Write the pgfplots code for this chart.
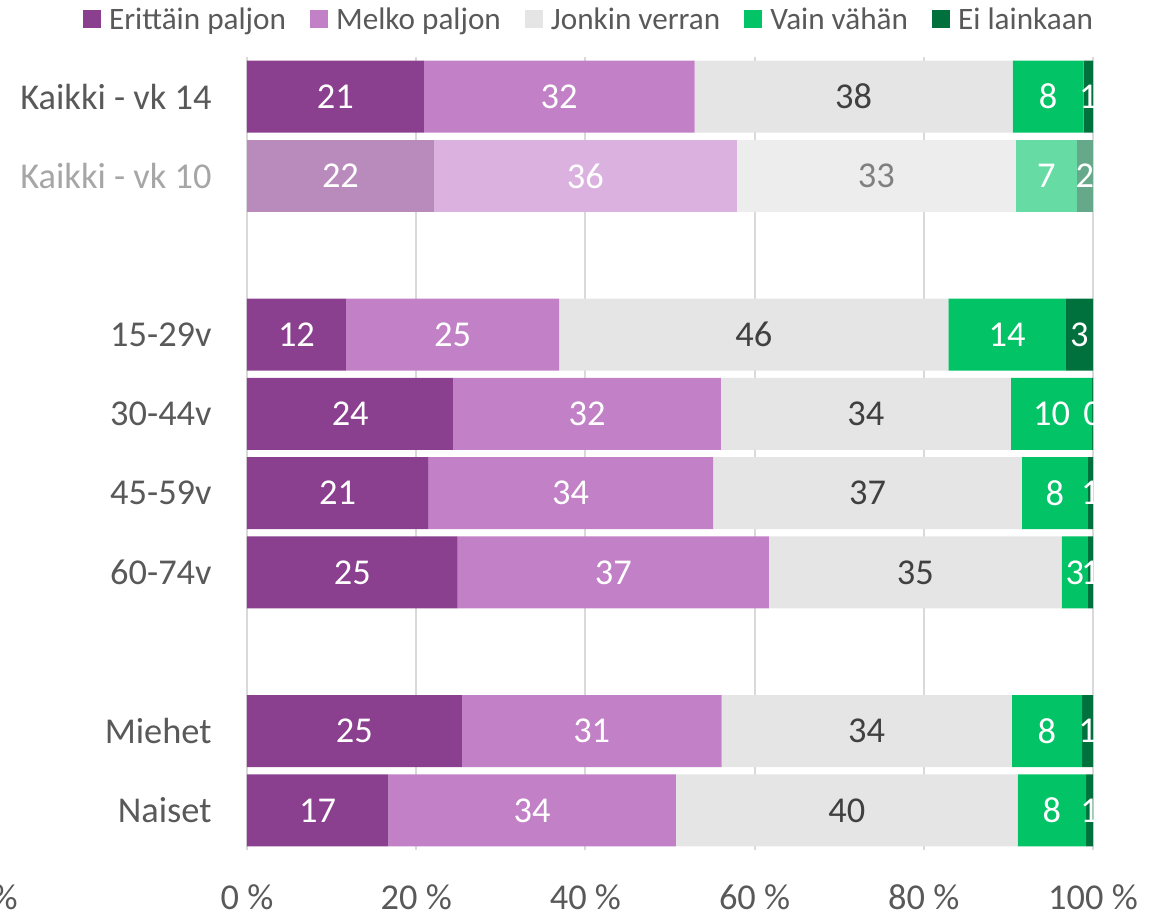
\documentclass[border=0pt]{standalone}
\usepackage{fontspec}
\setmainfont{Carlito}
\usepackage{pgfplots}
\pgfplotsset{compat=1.18}
\definecolor{txt}{HTML}{595959}
\definecolor{dlbl}{HTML}{404040}
\definecolor{lbl10}{HTML}{A6A6A6}
\definecolor{c1}{HTML}{8B3F8F}
\definecolor{c2}{HTML}{C280C7}
\definecolor{c3}{HTML}{E5E5E5}
\definecolor{c4}{HTML}{02C366}
\definecolor{c5}{HTML}{00703C}
\definecolor{f1}{HTML}{B98ABC}
\definecolor{f2}{HTML}{DBB2DF}
\definecolor{f3}{HTML}{EDEDED}
\definecolor{f4}{HTML}{66DBA4}
\definecolor{f5}{HTML}{66A98A}
\definecolor{gridc}{HTML}{D9D9D9}
\newcommand{\chartfont}{\fontsize{18.2}{21}\selectfont}
\newcommand{\legfont}{\fontsize{15.6}{18}\selectfont}

\begin{document}
\begin{tikzpicture}
\useasboundingbox (-123.5pt,-32pt) rectangle (455.5pt,425pt);
\begin{axis}[
  xbar stacked, scale only axis, width=423pt, height=396.5pt, bar width=36pt,
  xmin=0, xmax=100, ymin=-0.5, ymax=9.5,
  xtick={0,20,...,100}, xticklabels={0 \%,20 \%,40 \%,60 \%,80 \%,100 \%},
  ytick={9,8,6,5,4,3,1,0},
  yticklabels={Kaikki - vk 14,\textcolor{lbl10}{Kaikki - vk 10},15-29v,30-44v,45-59v,60-74v,Miehet,Naiset},
  major tick length=0pt,
  xmajorgrids, grid style={gridc, line width=1pt},
  axis line style={draw=none},
  tick label style={font=\chartfont, text=txt, inner sep=0pt},
  xticklabel style={anchor=north, yshift=-17pt},
  yticklabel style={anchor=east, xshift=-17.5pt},
  point meta=explicit symbolic,
  nodes near coords,
  every node near coord/.append style={anchor=center, inner sep=0pt, font=\chartfont},
  legend columns=5,
  legend style={draw=none, fill=none, at={(-0.1942,1.0625)}, anchor=north west, inner sep=0pt,
    font=\legfont, text=txt, nodes={inner sep=0pt},
    /tikz/every odd column/.append style={column sep=4pt},
    /tikz/every even column/.append style={column sep=12pt}},
  legend image code/.code={\fill[#1] (0pt,-4pt) rectangle (9pt,5pt);},
  after end axis/.code={
    \fill[white] ([xshift=0.6pt]rel axis cs:1,0) rectangle ++(40pt,396.5pt);
    \node[anchor=north east, inner sep=0pt, text=txt, font=\chartfont] at ([xshift=-114.5pt,yshift=-17pt]rel axis cs:0,0) {\%};
  },
]
\addplot[fill=c1, draw=none, every node near coord/.append style={text=white}] coordinates {
  (20.9,9) [21] (0,8) [{}] (11.7,6) [12] (24.4,5) [24] (21.4,4) [21] (24.9,3) [25] (25.4,1) [25] (16.7,0) [17]};
\addplot[fill=c2, draw=none, every node near coord/.append style={text=white}] coordinates {
  (32.0,9) [32] (0,8) [{}] (25.2,6) [25] (31.6,5) [32] (33.7,4) [34] (36.8,3) [37] (30.7,1) [31] (34.0,0) [34]};
\addplot[fill=c3, draw=none, every node near coord/.append style={text=dlbl}] coordinates {
  (37.6,9) [38] (0,8) [{}] (46.0,6) [46] (34.3,5) [34] (36.5,4) [37] (34.6,3) [35] (34.3,1) [34] (40.4,0) [40]};
\addplot[fill=c4, draw=none, every node near coord/.append style={text=white}] coordinates {
  (8.4,9) [8] (0,8) [{}] (13.9,6) [14] (9.6,5) [10] (7.8,4) [8] (3.1,3) [3] (8.3,1) [8] (8.1,0) [8]};
\addplot[fill=c5, draw=none, every node near coord/.append style={text=white}] coordinates {
  (1.1,9) [1] (0,8) [{}] (3.2,6) [3] (0.1,5) [0] (0.6,4) [1] (0.6,3) [1] (1.3,1) [1] (0.8,0) [1]};
\legend{Erittäin paljon, Melko paljon, Jonkin verran, Vain vähän, Ei lainkaan}
% Kaikki - vk 10, faded
\addplot[forget plot, fill=f1, draw=none, every node near coord/.append style={text=white}] coordinates {
  (0,9) [{}] (22.1,8) [22] (0,6) [{}] (0,5) [{}] (0,4) [{}] (0,3) [{}] (0,1) [{}] (0,0) [{}]};
\addplot[forget plot, fill=f2, draw=none, every node near coord/.append style={text=white}] coordinates {
  (0,9) [{}] (35.8,8) [36] (0,6) [{}] (0,5) [{}] (0,4) [{}] (0,3) [{}] (0,1) [{}] (0,0) [{}]};
\addplot[forget plot, fill=f3, draw=none, every node near coord/.append style={text=gray}] coordinates {
  (0,9) [{}] (33.0,8) [33] (0,6) [{}] (0,5) [{}] (0,4) [{}] (0,3) [{}] (0,1) [{}] (0,0) [{}]};
\addplot[forget plot, fill=f4, draw=none, every node near coord/.append style={text=white}] coordinates {
  (0,9) [{}] (7.2,8) [7] (0,6) [{}] (0,5) [{}] (0,4) [{}] (0,3) [{}] (0,1) [{}] (0,0) [{}]};
\addplot[forget plot, fill=f5, draw=none, every node near coord/.append style={text=white}] coordinates {
  (0,9) [{}] (1.9,8) [2] (0,6) [{}] (0,5) [{}] (0,4) [{}] (0,3) [{}] (0,1) [{}] (0,0) [{}]};
\end{axis}
\end{tikzpicture}
\end{document}
